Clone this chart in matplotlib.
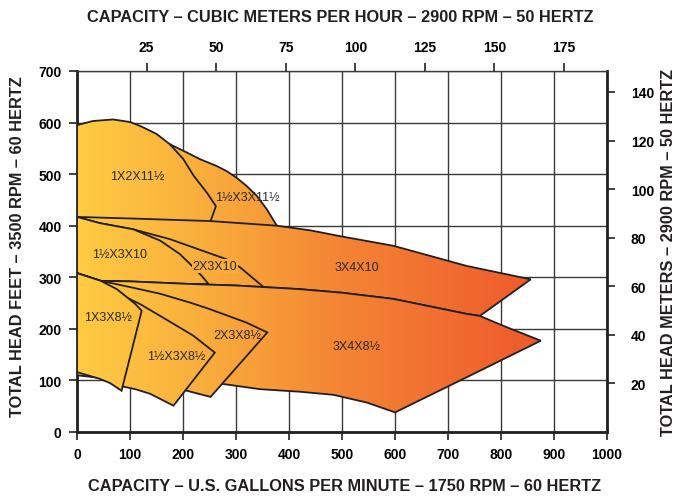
import numpy as np
import matplotlib
matplotlib.use('Agg')
import matplotlib.pyplot as plt
from matplotlib.path import Path
from matplotlib.patches import PathPatch
from matplotlib.colors import LinearSegmentedColormap

# Data (capacity in US gpm, head in feet)
###############################################################################

gpm_ticks = [0, 100, 200, 300, 400, 500, 600, 700, 800, 900, 1000]
feet_ticks = [0, 100, 200, 300, 400, 500, 600, 700]
m3h_ticks = [25, 50, 75, 100, 125, 150, 175]
meter_ticks = [20, 40, 60, 80, 100, 120, 140]
GPM_PER_M3H = 5.25
FEET_PER_METER = 4.71

# 11 1/2 inch impellers
curve_1x2x11 = [(0, 395), (0, 595), (30, 603), (68, 606), (100, 601), (120, 593),
                (150, 578), (175, 558), (200, 530), (220, 497), (245, 464),
                (262, 438), (249, 400), (249, 395)]
curve_15x3x11 = [(150, 565), (175, 558), (207, 542), (232, 529), (263, 516),
                 (282, 506), (301, 493), (320, 477), (339, 458), (358, 432),
                 (377, 400), (380, 388), (150, 388)]

# 10 inch impellers
top_10 = [(0, 417), (100, 414), (251, 409), (377, 400), (440, 391), (500, 379),
          (597, 361), (735, 322), (856, 296)]
top_85 = [(0, 308), (45, 293), (100, 292), (213, 287), (300, 284), (420, 277),
          (500, 270), (597, 258), (735, 229), (760, 225), (811, 203), (875, 177)]
flat_2x3x10 = [(0, 417), (43, 405), (106, 393), (175, 374), (238, 351),
               (282, 335), (308, 319), (352, 281)]
steep_15x3x10 = [(106, 393), (157, 371), (194, 345), (213, 326), (235, 303),
                 (248, 287)]

# 8 1/2 inch impellers
curve_3x4x8 = top_85[1:] + [(735, 106), (600, 38), (547, 57), (484, 72), (421, 78),
                            (345, 83), (276, 93), (200, 100), (100, 110), (0, 120),
                            (0, 308)]
curve_2x3x8 = [(45, 293), (100, 281), (157, 268), (213, 251), (251, 238),
               (320, 212), (359, 193), (252, 68), (207, 80), (150, 88),
               (100, 98), (0, 110), (0, 308)]
curve_15x3x8 = [(97, 259), (119, 248), (157, 225), (219, 187), (260, 154),
                (182, 51), (138, 74), (110, 83), (87, 88), (80, 110), (60, 250)]
curve_1x3x8 = [(0, 308), (45, 293), (75, 277), (97, 259), (110, 248), (122, 235),
               (84, 80), (62, 95), (43, 103), (20, 110), (0, 116)]

labels = ['1X2X11½', '1½X3X11½', '1½X3X10', '2X3X10', '3X4X10',
          '1X3X8½', '1½X3X8½', '2X3X8½', '3X4X8½']
label_pos = [(113, 496), (322, 455), (81, 345), (260, 322), (528, 320),
             (58, 223), (187, 147), (302, 188), (528, 167)]
label_box = [False, False, False, True, False, False, False, False, False]

# Build the closed outlines of the 10 inch family
curve_3x4x10 = top_10 + [(760, 225)] + top_85[:10][::-1]
curve_2x3x10 = flat_2x3x10 + [(300, 284), (213, 287), (100, 292), (45, 293), (0, 308)]
curve_15x3x10 = flat_2x3x10[:3] + steep_15x3x10[1:] + [(213, 287), (100, 292),
                                                       (45, 293), (0, 308)]

# back to front
shapes = [curve_15x3x11, curve_1x2x11, curve_3x4x10, curve_2x3x10, curve_15x3x10,
          curve_3x4x8, curve_2x3x8, curve_15x3x8, curve_1x3x8]

# Plot
###############################################################################

cmap = LinearSegmentedColormap.from_list('pump', [
    (0.0, (254 / 255, 204 / 255, 66 / 255)),
    (0.25, (249 / 255, 172 / 255, 60 / 255)),
    (0.5, (244 / 255, 132 / 255, 52 / 255)),
    (0.88, (238 / 255, 88 / 255, 44 / 255)),
    (1.0, (237 / 255, 84 / 255, 43 / 255))])

bold = dict(family=['Liberation Sans', 'DejaVu Sans'], weight='bold')
dark = '#231f20'

fig = plt.figure(figsize=(6.81, 5.02), dpi=100)
ax = fig.add_axes([0.1131, 0.1375, 0.7783, 0.7191])
ax.set_xlim(0, 1000)
ax.set_ylim(0, 700)

ax.set_xticks(gpm_ticks)
ax.set_yticks(feet_ticks)
ax.grid(True, color='#3a3a3a', linewidth=1.0, zorder=0)
ax.set_axisbelow(True)

gradient = np.linspace(0, 1, 512).reshape(1, -1)
for i, pts in enumerate(shapes):
    path = Path(pts + [pts[0]], closed=True)
    patch = PathPatch(path, facecolor='none', edgecolor=dark, linewidth=1.3,
                      joinstyle='miter', zorder=3 + 2 * i + 1)
    im = ax.imshow(gradient, extent=[0, 1000, 0, 700], aspect='auto', cmap=cmap,
                   interpolation='bilinear', origin='lower', zorder=3 + 2 * i)
    ax.add_patch(patch)
    im.set_clip_path(patch)
ax.set_xlim(0, 1000)
ax.set_ylim(0, 700)

for lab, (x, y), boxed in zip(labels, label_pos, label_box):
    box = None
    if boxed:
        box = dict(boxstyle='square,pad=0.05', facecolor=cmap(x / 1000),
                   edgecolor='none')
    ax.text(x, y, lab, ha='center', va='center', fontsize=9,
            family=['Liberation Sans', 'DejaVu Sans'], color='#2b2b2b', zorder=30,
            bbox=box)

for side in ['left', 'bottom', 'right']:
    ax.spines[side].set_linewidth(2.0)
    ax.spines[side].set_color(dark)
ax.spines['top'].set_linewidth(1.0)
ax.spines['top'].set_color('#3a3a3a')

ax.tick_params(axis='both', direction='out', length=6, width=1.2, color=dark,
               labelsize=10, pad=5)
for t in ax.get_xticklabels() + ax.get_yticklabels():
    t.set_fontfamily(bold['family'])
    t.set_fontweight('bold')

top = ax.secondary_xaxis('top', functions=(lambda x: x / GPM_PER_M3H,
                                           lambda x: x * GPM_PER_M3H))
top.set_xticks(m3h_ticks)
top.spines['top'].set_visible(False)
top.tick_params(direction='out', length=6, width=1.2, color=dark, labelsize=10, pad=6)
for t in top.get_xticklabels():
    t.set_fontfamily(bold['family'])
    t.set_fontweight('bold')

right = ax.secondary_yaxis('right', functions=(lambda y: y / FEET_PER_METER,
                                               lambda y: y * FEET_PER_METER))
right.set_yticks(meter_ticks)
right.spines['right'].set_visible(False)
right.tick_params(direction='out', length=6, width=1.2, color=dark, labelsize=10, pad=11)
for t in right.get_yticklabels():
    t.set_fontfamily(bold['family'])
    t.set_fontweight('bold')

fig.text(0.5, 1 - 18 / 502, 'CAPACITY – CUBIC METERS PER HOUR – 2900 RPM – 50 HERTZ',
         ha='center', va='center', fontsize=11.8, color=dark, **bold)
fig.text(0.506, 1 - 487 / 502, 'CAPACITY – U.S. GALLONS PER MINUTE – 1750 RPM – 60 HERTZ',
         ha='center', va='center', fontsize=11.8, color=dark, **bold)
fig.text(0.026, 0.508, 'TOTAL HEAD FEET – 3500 RPM – 60 HERTZ', rotation=90,
         ha='center', va='center', fontsize=11.8, color=dark, **bold)
fig.text(0.981, 0.498, 'TOTAL HEAD METERS – 2900 RPM – 50 HERTZ', rotation=90,
         ha='center', va='center', fontsize=11.8, color=dark, **bold)

fig.savefig('out.png', dpi=100)
